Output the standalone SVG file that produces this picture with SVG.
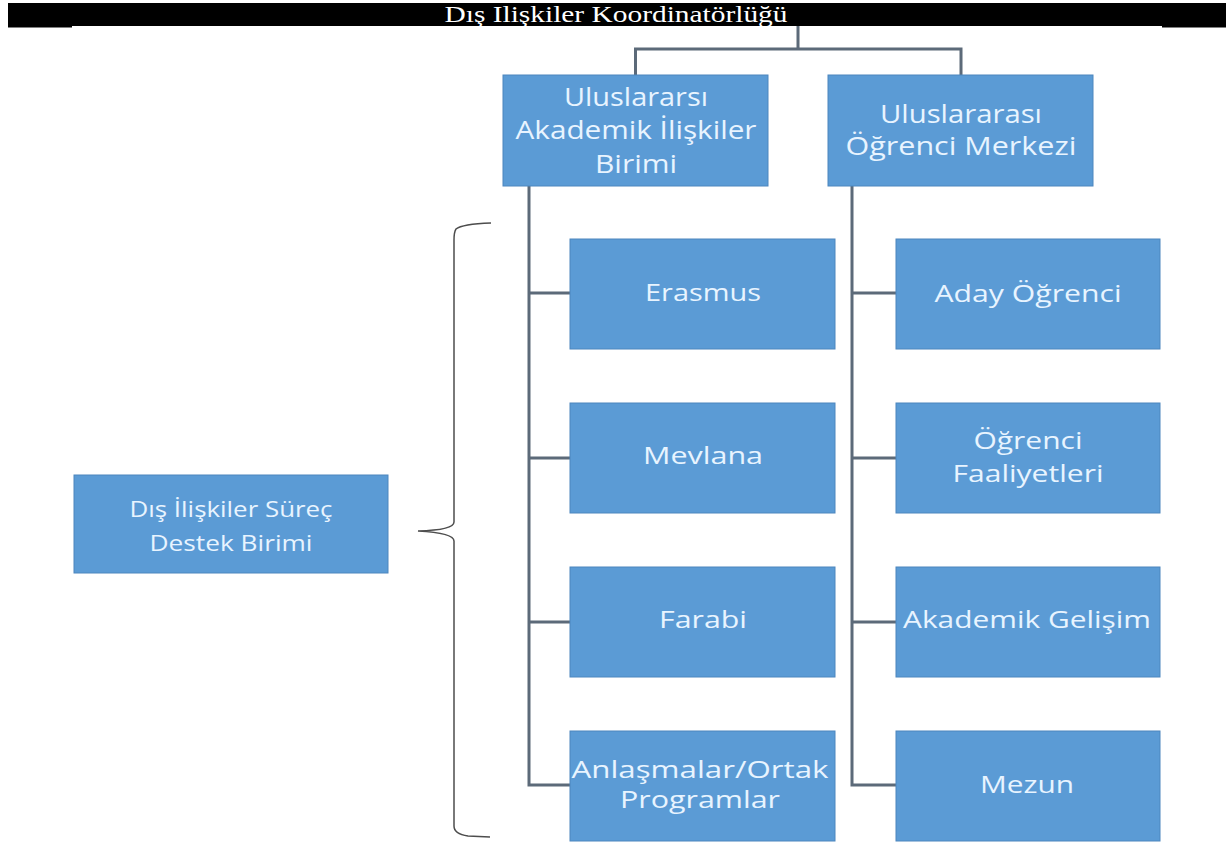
<svg xmlns="http://www.w3.org/2000/svg" width="1229" height="843" viewBox="0 0 1229 843">
<style>
.box{fill:#5b9bd5;stroke:#4c86be;stroke-width:1}
.lbl{font-family:"Open Sans","Noto Sans","DejaVu Sans",sans-serif;fill:#e8f4ff;text-anchor:middle}
.s23{font-size:23px}
.s25{font-size:25px}
.s21{font-size:21px}
.conn{fill:none;stroke:#5c6a79;stroke-width:3;stroke-linejoin:miter}
.brace{fill:none;stroke:#4d4d4d;stroke-width:1.5}
.title{font-family:"Liberation Serif","Times New Roman",serif;font-size:23px;fill:#ffffff;text-anchor:middle}
</style>
<defs>
<clipPath id="barclip"><rect x="8" y="3" width="1218" height="23"/></clipPath>
</defs>
<rect x="0" y="0" width="1229" height="843" fill="#ffffff"/>
<g id="title">
<rect x="8" y="3" width="1218" height="23" fill="#000000"/>
<rect x="8" y="26" width="64" height="1.5" fill="#000000"/>
<rect x="1162" y="26" width="64" height="1.5" fill="#000000"/>
<text class="title" x="616" y="22" textLength="343" lengthAdjust="spacingAndGlyphs" clip-path="url(#barclip)">Dış Ilişkiler Koordinatörlüğü</text>
</g>
<g id="connectors">
<path class="conn" d="M798,26 V49 M635.5,49 H961 M635.5,47.5 V75 M961,47.5 V75"/>
<path class="conn" d="M529,186 V785 H570 M529,293 H570 M529,458 H570 M529,622 H570"/>
<path class="conn" d="M852,186 V785 H896 M852,293 H896 M852,458 H896 M852,622 H896"/>
<path class="brace" d="M491,223 Q462,224 456,229 Q454,232 454,240 V522 Q454,530 418,531 Q454,533 454,541 V826 Q454,834 468,836 L490,837"/>
</g>
<g id="node-uaib">
<rect class="box" x="503" y="75" width="265" height="111"/>
<text class="lbl s25" x="636" y="106" textLength="144" lengthAdjust="spacingAndGlyphs">Uluslararsı</text>
<text class="lbl s25" x="636" y="139" textLength="241" lengthAdjust="spacingAndGlyphs">Akademik İlişkiler</text>
<text class="lbl s25" x="636" y="173" textLength="82" lengthAdjust="spacingAndGlyphs">Birimi</text>
</g>
<g id="node-uom">
<rect class="box" x="828" y="75" width="265" height="111"/>
<text class="lbl s25" x="961" y="123" textLength="162" lengthAdjust="spacingAndGlyphs">Uluslararası</text>
<text class="lbl s25" x="961" y="155" textLength="231" lengthAdjust="spacingAndGlyphs">Öğrenci Merkezi</text>
</g>
<g id="node-surec">
<rect class="box" x="74" y="475" width="314" height="98"/>
<text class="lbl s21" x="231" y="517" textLength="203" lengthAdjust="spacingAndGlyphs">Dış İlişkiler Süreç</text>
<text class="lbl s21" x="231" y="551" textLength="163" lengthAdjust="spacingAndGlyphs">Destek Birimi</text>
</g>
<g id="node-erasmus">
<rect class="box" x="570" y="239" width="265" height="110"/>
<text class="lbl s23" x="703" y="301" textLength="116" lengthAdjust="spacingAndGlyphs">Erasmus</text>
</g>
<g id="node-mevlana">
<rect class="box" x="570" y="403" width="265" height="110"/>
<text class="lbl s23" x="703" y="464" textLength="120" lengthAdjust="spacingAndGlyphs">Mevlana</text>
</g>
<g id="node-farabi">
<rect class="box" x="570" y="567" width="265" height="110"/>
<text class="lbl s23" x="703" y="628" textLength="88" lengthAdjust="spacingAndGlyphs">Farabi</text>
</g>
<g id="node-anlasmalar">
<rect class="box" x="570" y="731" width="265" height="110"/>
<text class="lbl s23" x="700" y="778" textLength="257" lengthAdjust="spacingAndGlyphs">Anlaşmalar/Ortak</text>
<text class="lbl s23" x="700" y="808" textLength="160" lengthAdjust="spacingAndGlyphs">Programlar</text>
</g>
<g id="node-aday">
<rect class="box" x="896" y="239" width="264" height="110"/>
<text class="lbl s23" x="1028" y="302" textLength="187" lengthAdjust="spacingAndGlyphs">Aday Öğrenci</text>
</g>
<g id="node-faaliyet">
<rect class="box" x="896" y="403" width="264" height="110"/>
<text class="lbl s23" x="1028" y="449" textLength="109" lengthAdjust="spacingAndGlyphs">Öğrenci</text>
<text class="lbl s23" x="1028" y="482" textLength="151" lengthAdjust="spacingAndGlyphs">Faaliyetleri</text>
</g>
<g id="node-gelisim">
<rect class="box" x="896" y="567" width="264" height="110"/>
<text class="lbl s23" x="1027" y="628" textLength="248" lengthAdjust="spacingAndGlyphs">Akademik Gelişim</text>
</g>
<g id="node-mezun">
<rect class="box" x="896" y="731" width="264" height="110"/>
<text class="lbl s23" x="1027" y="793" textLength="94" lengthAdjust="spacingAndGlyphs">Mezun</text>
</g>
</svg>
